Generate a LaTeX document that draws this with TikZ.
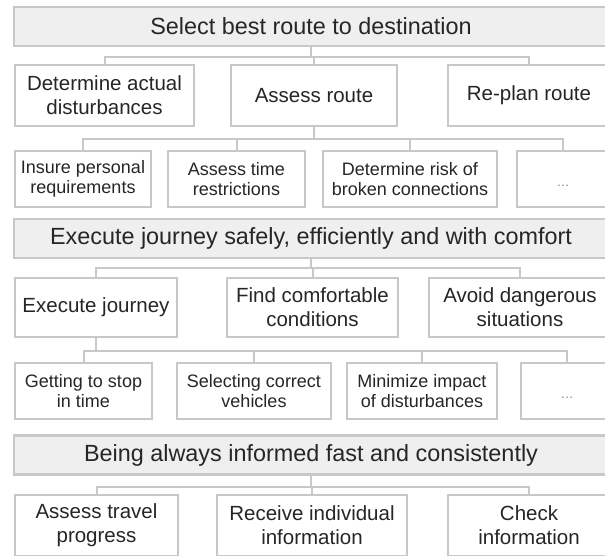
\documentclass[tikz,border=0pt]{standalone}
\usepackage{fontspec}
\setmainfont{Liberation Sans}
\definecolor{boxline}{RGB}{200,200,200}
\definecolor{goalfill}{RGB}{239,239,239}
\definecolor{boxtext}{RGB}{38,38,38}
\tikzstyle{goal box}=[draw=boxline,fill=goalfill,line width=2.6pt,
    minimum width=594pt,minimum height=39pt,inner sep=0pt,text=boxtext,
    font=\fontsize{23.4}{26}\selectfont]
\tikzstyle{task box}=[draw=boxline,fill=white,line width=2.6pt,
    inner sep=0pt,align=center,text=boxtext,
    font=\fontsize{20.5}{24}\selectfont]
\tikzstyle{subtask box}=[task box,font=\fontsize{18}{20}\selectfont]
\tikzstyle{link}=[boxline,line width=2pt]
\newcommand{\goal}[3]{
    \node[goal box] at (#1) (#2) {#3};
}
\newcommand{\task}[4][]{
    \node[task box,#1] at (#2) (#3) {#4};
}
\newcommand{\subtask}[4][]{
    \node[subtask box,#1] at (#2) (#3) {#4};
}
\newcommand{\branch}[3]{\draw[link] (#1.south) -- (#1.south |- 0,#3) -| (#2.north);}
\newcommand{\more}{\smash{\raisebox{-7pt}{\fontsize{13}{15}\selectfont\color{gray}\textellipsis}}}

\begin{document}
\begin{tikzpicture}[x=1pt,y=-1pt]
    \useasboundingbox (0,0) rectangle (605,555);
    \clip (0,0) rectangle (605,555);

    \goal{311,26.5}{route}{Select best route to destination}
    \task[minimum width=179pt,minimum height=61pt]{104.5,95.5}{actual}{Determine actual\\disturbances}
    \task[minimum width=166pt,minimum height=61pt]{314,95.5}{assess}{Assess route}
    \task[minimum width=162pt,minimum height=61pt]{529,95.5}{replan}{Re-plan route}
    \subtask[minimum width=136pt,minimum height=56pt]{83,179}{personal}{Insure personal\\requirements}
    \subtask[minimum width=137pt,minimum height=56pt]{236.5,179}{timerestr}{Assess time\\restrictions}
    \subtask[minimum width=174pt,minimum height=56pt]{410,179}{risk}{Determine risk of\\broken connections}
    \subtask[minimum width=92pt,minimum height=56pt]{563,179}{moreA}{\more}

    \goal{311,238.5}{journey}{Execute journey safely, efficiently and with comfort}
    \task[minimum width=162pt,minimum height=59pt]{96,307.5}{execute}{Execute journey}
    \task[minimum width=171pt,minimum height=59pt]{312.5,307.5}{comfort}{Find comfortable\\conditions}
    \task[minimum width=182pt,minimum height=59pt]{520,307.5}{danger}{Avoid dangerous\\situations}
    \subtask[minimum width=137pt,minimum height=56pt]{83.5,391}{stop}{Getting to stop\\in time}
    \subtask[minimum width=154pt,minimum height=56pt]{254,391}{vehicles}{Selecting correct\\vehicles}
    \subtask[minimum width=150pt,minimum height=56pt]{422,391}{impact}{Minimize impact\\of disturbances}
    \subtask[minimum width=92pt,minimum height=56pt]{567,391}{moreB}{\more}

    \goal{311,455}{informed}{Being always informed fast and consistently}
    \task[minimum width=163pt,minimum height=61pt]{96.5,525.5}{progress}{Assess travel\\progress}
    \task[minimum width=190pt,minimum height=61pt]{312,525.5}{individual}{Receive individual\\information}
    \task[minimum width=162pt,minimum height=61pt]{529,525.5}{check}{Check\\information}

    \branch{route}{actual}{57}
    \branch{route}{assess}{57}
    \branch{route}{replan}{57}
    \branch{assess}{personal}{139}
    \branch{assess}{timerestr}{139}
    \branch{assess}{risk}{139}
    \branch{assess}{moreA}{139}
    \branch{journey}{execute}{268}
    \branch{journey}{comfort}{268}
    \branch{journey}{danger}{268}
    \branch{execute}{stop}{351}
    \branch{execute}{vehicles}{351}
    \branch{execute}{impact}{351}
    \branch{execute}{moreB}{351}
    \branch{informed}{progress}{487}
    \branch{informed}{individual}{487}
    \branch{informed}{check}{487}
\end{tikzpicture}
\end{document}
